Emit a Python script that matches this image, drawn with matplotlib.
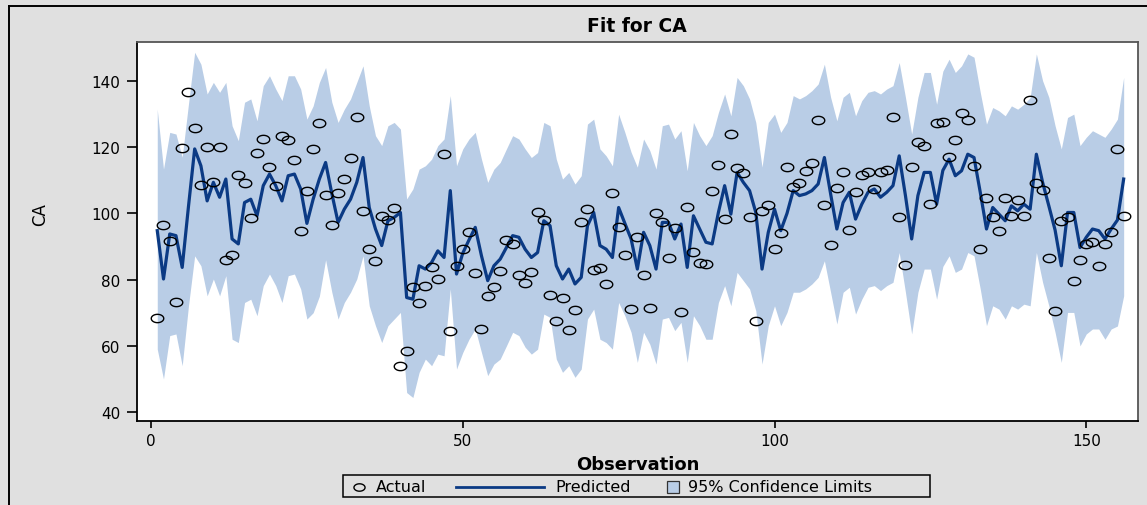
import numpy as np
import matplotlib
matplotlib.use("Agg")
import matplotlib.pyplot as plt
from matplotlib.path import Path
from matplotlib.patches import Rectangle
from matplotlib.lines import Line2D

#------------------------------------------------------------------------------
# Data (observation 1..156)
#------------------------------------------------------------------------------
actual = [68.3, 96.5, 91.8, 73.4, 119.7, 136.6, 125.7, 108.7, 120.0, 109.6,
          120.0, 86.0, 87.5, 111.6, 109.3, 98.6, 118.4, 122.5, 114.0, 108.4,
          123.3, 122.3, 116.0, 94.6, 106.8, 119.5, 127.3, 105.6, 96.5, 106.2,
          110.4, 116.9, 129.1, 100.8, 89.2, 85.7, 99.3, 98.0, 101.7, 53.8,
          58.5, 77.9, 73.1, 78.2, 83.7, 80.1, 118.1, 64.5, 84.0, 89.2,
          94.5, 81.9, 65.1, 75.2, 77.9, 82.5, 92.0, 90.8, 81.5, 79.1,
          82.2, 100.4, 97.9, 75.5, 67.4, 74.6, 64.8, 70.8, 97.3, 101.4,
          82.9, 83.6, 78.7, 106.2, 95.8, 87.5, 71.1, 92.9, 81.5, 71.4,
          100.2, 97.3, 86.5, 95.5, 70.1, 102.0, 88.5, 85.0, 84.7, 106.8,
          114.6, 98.2, 124.1, 113.6, 112.3, 98.8, 67.6, 100.6, 102.6, 89.4,
          94.1, 114.0, 108.1, 109.2, 112.7, 115.2, 128.2, 102.7, 90.4, 107.7,
          112.4, 95.1, 106.5, 111.5, 112.4, 107.5, 112.4, 113.1, 129.1, 98.9,
          84.4, 114.0, 121.6, 120.3, 103.0, 127.2, 127.6, 117.2, 122.3, 130.3,
          128.2, 114.4, 89.4, 104.6, 98.8, 94.8, 104.6, 99.1, 104.2, 99.3,
          134.3, 109.2, 107.1, 86.5, 70.5, 97.6, 99.0, 79.7, 86.0, 90.8,
          91.5, 84.0, 90.9, 94.3, 119.5, 99.2]

predicted = [94.8, 80.2, 93.8, 93.3, 83.7, 102.0, 119.5, 114.4, 103.8, 109.4,
             104.9, 110.4, 92.3, 90.8, 103.3, 104.3, 99.3, 108.4, 111.9, 108.4,
             103.8, 111.4, 111.9, 107.4, 97.0, 104.3, 110.4, 115.4, 106.0, 97.3,
             101.3, 104.3, 109.4, 116.9, 101.8, 95.3, 90.3, 97.8, 98.8, 100.3,
             74.6, 74.1, 84.2, 83.2, 85.2, 88.7, 86.7, 106.9, 81.7, 88.0,
             92.0, 95.8, 87.2, 79.7, 84.2, 86.2, 89.7, 93.3, 92.8, 89.2,
             86.7, 88.2, 97.8, 96.3, 84.2, 80.2, 83.2, 78.7, 80.7, 96.3,
             100.3, 90.3, 89.2, 86.7, 101.8, 97.0, 92.3, 83.2, 94.3, 90.3,
             83.2, 97.3, 97.3, 92.3, 96.8, 83.7, 99.3, 95.3, 91.3, 90.8,
             100.3, 108.4, 99.8, 112.4, 109.4, 106.9, 100.3, 83.2, 94.3, 101.3,
             94.8, 100.0, 106.9, 105.4, 105.9, 106.9, 108.9, 116.9, 105.9, 95.3,
             103.3, 106.4, 98.3, 102.8, 106.4, 107.4, 104.9, 106.4, 108.4, 117.4,
             105.4, 92.3, 105.4, 112.4, 112.4, 102.8, 113.0, 116.4, 111.4, 112.9,
             117.9, 116.9, 106.4, 95.3, 101.8, 99.8, 97.8, 102.3, 100.8, 102.8,
             101.3, 117.9, 109.4, 102.3, 95.0, 84.2, 100.3, 100.3, 89.7, 92.8,
             95.3, 94.8, 92.3, 95.3, 98.0, 110.4]

upper = [131.5, 113.4, 124.5, 124.0, 117.0, 133.0, 148.7, 145.1, 136.1, 139.6,
         136.6, 139.6, 126.5, 122.0, 133.6, 134.6, 128.0, 138.6, 141.6, 137.6,
         134.1, 141.6, 141.6, 137.6, 128.5, 132.5, 139.6, 144.1, 133.6, 127.5,
         131.5, 134.6, 139.6, 144.6, 132.5, 123.5, 120.5, 126.5, 127.5, 125.5,
         104.4, 107.4, 113.4, 114.4, 116.4, 120.5, 122.5, 135.6, 114.4, 119.5,
         122.5, 124.5, 116.4, 109.4, 113.4, 115.4, 119.5, 123.5, 122.5, 119.5,
         116.9, 118.4, 127.5, 126.5, 116.4, 110.4, 112.4, 108.9, 111.4, 127.0,
         128.5, 119.5, 117.4, 114.4, 130.0, 124.5, 118.5, 114.0, 122.5, 119.0,
         113.4, 126.5, 127.0, 122.5, 125.0, 112.9, 127.5, 123.5, 120.5, 123.5,
         130.5, 136.1, 129.5, 141.1, 138.6, 134.6, 127.5, 114.0, 127.5, 130.0,
         124.5, 127.5, 135.6, 134.6, 135.6, 137.1, 139.1, 145.1, 135.1, 128.0,
         135.1, 136.6, 129.5, 134.1, 136.6, 137.1, 136.1, 137.6, 138.6, 145.6,
         135.1, 124.0, 135.1, 142.6, 142.6, 133.0, 143.0, 146.6, 142.6, 144.6,
         148.2, 147.2, 136.6, 127.0, 132.0, 131.0, 129.5, 132.5, 131.5, 133.0,
         135.0, 148.2, 140.1, 135.1, 126.5, 119.5, 129.0, 130.0, 120.5, 123.0,
         125.0, 124.0, 123.0, 125.5, 128.5, 141.1]

lower = [59.0, 50.0, 63.1, 63.6, 54.0, 72.0, 87.2, 84.2, 75.1, 80.2,
         75.1, 81.2, 62.0, 61.0, 73.1, 74.1, 69.1, 78.2, 81.7, 78.2,
         73.1, 81.2, 81.7, 77.2, 68.1, 70.0, 75.0, 86.0, 76.2, 68.1,
         73.1, 76.2, 80.2, 87.2, 72.1, 66.1, 61.0, 66.1, 68.1, 70.1,
         45.9, 44.4, 52.0, 56.0, 54.0, 57.5, 57.0, 77.2, 53.0, 58.0,
         62.0, 65.1, 58.0, 51.0, 54.5, 56.0, 60.0, 64.1, 63.1, 59.6,
         57.5, 59.0, 69.6, 68.6, 56.0, 52.0, 54.0, 50.5, 53.0, 68.1,
         71.1, 62.0, 61.0, 59.0, 73.1, 69.1, 64.1, 55.0, 64.1, 60.5,
         54.5, 68.1, 68.6, 64.6, 67.1, 55.0, 69.1, 66.1, 62.0, 62.0,
         73.1, 78.2, 72.1, 82.2, 79.7, 77.2, 70.6, 54.5, 66.1, 72.1,
         66.1, 70.1, 76.2, 76.2, 77.2, 78.7, 80.7, 85.7, 76.2, 66.6,
         76.2, 77.7, 69.6, 74.1, 77.7, 78.2, 76.7, 78.2, 79.2, 88.2,
         76.2, 63.6, 76.2, 83.2, 83.2, 74.1, 84.0, 87.2, 82.2, 83.2,
         88.2, 87.2, 77.2, 66.1, 72.1, 71.1, 68.1, 72.1, 71.1, 72.6,
         72.1, 88.2, 79.2, 72.1, 64.1, 55.0, 70.1, 70.1, 60.0, 63.6,
         65.1, 65.1, 62.0, 65.1, 66.0, 75.1]

obs = np.arange(1, len(actual) + 1)

x_ticks = [0, 50, 100, 150]
y_ticks = [40, 60, 80, 100, 120, 140]

#------------------------------------------------------------------------------
# Styling
#------------------------------------------------------------------------------
W, H = 1147, 506
bg = '#e0e0e0'
band_col = '#b9cde6'
line_col = '#0b3a84'

plt.rcParams['font.family'] = 'DejaVu Sans'

# slightly flattened open circle (the reference is stretched horizontally)
t = np.linspace(0, 2*np.pi, 41)
ellipse = Path(np.column_stack([1.5*np.cos(t), np.sin(t)]), closed=True)

fig = plt.figure(figsize=(W/100, H/100), dpi=100, facecolor=bg)
ax = fig.add_axes([137/W, 1 - 422/H, (1138 - 137)/W, (422 - 43)/H])
ax.set_facecolor('white')

ax.fill_between(obs, lower, upper, color=band_col, linewidth=0, zorder=1)
ax.plot(obs, predicted, color=line_col, linewidth=2.3, zorder=2)
ax.plot(obs, actual, linestyle='none', marker=ellipse, markersize=9,
        markerfacecolor='none', markeredgecolor='black', markeredgewidth=1.0,
        zorder=3)

ax.set_xlim(-2.25, 158.3)
ax.set_ylim(37.3, 151.8)
ax.set_xticks(x_ticks)
ax.set_yticks(y_ticks)
ax.tick_params(axis='x', length=5, width=1.2, pad=4, labelsize=11)
ax.tick_params(axis='y', length=7, width=1.2, pad=5, labelsize=11)

for s in ['left', 'bottom']:
    ax.spines[s].set_color('black')
    ax.spines[s].set_linewidth(1.3)
for s in ['top', 'right']:
    ax.spines[s].set_color('#555555')
    ax.spines[s].set_linewidth(1.3)

ax.set_xlabel('Observation', fontsize=13, fontweight='bold', labelpad=5)
fig.text(40/W, 1 - 215/H, 'CA', rotation=90, fontsize=12,
         ha='center', va='center')
fig.text(637/W, 1 - 27/H, 'Fit for CA', fontsize=13.5, fontweight='bold',
         ha='center', va='center')

# outer frame (only left/top edges visible in the reference)
fig.add_artist(Line2D([8.5/W, 8.5/W], [0, 1 - 7/H], color='black', lw=1.4))
fig.add_artist(Line2D([8.5/W, 1], [1 - 7/H, 1 - 7/H], color='black', lw=1.4))

#------------------------------------------------------------------------------
# Legend drawn by hand to mimic the SAS layout
#------------------------------------------------------------------------------
def fx(px):
    return px/W

def fy(py):
    return 1 - py/H

fig.add_artist(Rectangle((fx(343), fy(498)), (930 - 343)/W, (498 - 476)/H,
                         transform=fig.transFigure, facecolor=bg,
                         edgecolor='black', linewidth=1.1))
ly = 487.5
fig.add_artist(Line2D([fx(359)], [fy(ly)], marker=ellipse, markersize=8,
                      markerfacecolor='none', markeredgecolor='black',
                      markeredgewidth=1.0, linestyle='none'))
fig.text(fx(376), fy(ly), 'Actual', fontsize=11.5, ha='left', va='center')
fig.add_artist(Line2D([fx(456), fx(544)], [fy(ly), fy(ly)],
                      color=line_col, lw=2))
fig.text(fx(555), fy(ly), 'Predicted', fontsize=11.5, ha='left', va='center')
fig.add_artist(Rectangle((fx(667), fy(ly + 6)), 12/W, 12/H,
                         transform=fig.transFigure, facecolor=band_col,
                         edgecolor='#333333', linewidth=0.9))
fig.text(fx(688), fy(ly), '95% Confidence Limits', fontsize=11.5,
         ha='left', va='center')

fig.savefig('out.png', dpi=100, facecolor=bg)
